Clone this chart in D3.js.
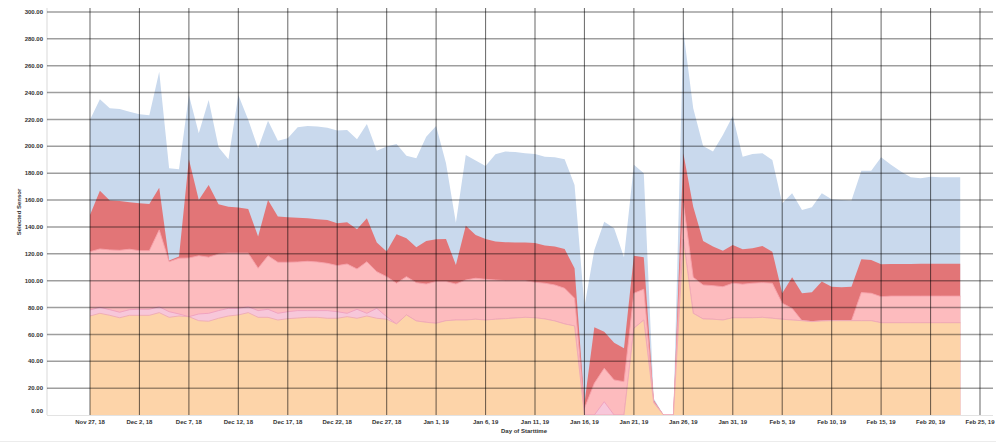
<!DOCTYPE html>
<html>
<head>
<meta charset="utf-8">
<script src="https://cdn.jsdelivr.net/npm/d3@7"></script>
<style>
body{margin:0;background:#fff;}
svg{display:block;font-family:"Liberation Sans",Arial,sans-serif;}
</style>
</head>
<body>
<svg id="chart" width="996" height="443"></svg>
<script>
// one point per day, Nov 27 2018 .. Feb 23 2019
let days = d3.timeDay.range(new Date(2018,10,27), new Date(2019,1,24));
let tickDates = d3.timeDay.range(new Date(2018,10,27), new Date(2019,1,26), 5);
let yTicks = [0,20,40,60,80,100,120,140,160,180,200,220,240,260,280,300];

let blueVals = [219.7,235.1,228.4,227.7,225.8,223.9,223.2,255.6,183.7,183,
  238.3,209.8,234.5,199.3,190.4,238.3,219.7,198.6,219.1,204.2,
  206,214.2,215.2,214.7,213.9,211.7,212.2,205.3,216.7,196.8,
  199.9,201.8,192.9,191.1,207.2,215.2,187.4,143.2,193.6,189.4,
  185.4,194.1,196.1,195.8,194.9,194.3,192.3,191.9,190.4,171.3,
  80.6,122.9,143.9,139,117.4,186.2,180,12.4,0,0,
  286,228.4,200.3,196.1,208.5,222.6,192.3,194.3,194.9,189.9,
  157.6,165.1,152.6,154.7,165.1,160.6,160.1,159.6,181.9,181.9,
  191.9,186.2,181.2,177,176.2,177.4,177,177,177];
let redVals = [148.9,167,159.6,159.3,158.4,157.6,157.1,169.2,115,117.9,
  190.4,160.1,171.3,156.9,155.1,154.4,153.4,132.8,160.1,147.7,
  147.2,146.9,146.5,145.8,145.2,142.8,143.5,138.3,146.5,128.4,
  121.7,134.6,131.6,124.9,129.6,130.9,131.1,111.7,140.9,134,
  131.1,129.1,128.6,128.4,128.4,128,126.2,125.5,123.5,109.2,
  8.7,65.3,62,53.8,49.7,118.5,117.5,11.2,0,0,
  194.9,155.1,129.6,125.5,122.3,126.6,123.4,124.1,125.8,121.6,
  90.6,102.5,90.6,91.4,99.3,95.5,95.1,95.5,115.9,115.4,
  112.2,112.4,112.4,112.4,112.6,112.6,112.6,112.6,112.6];
let pinkVals = [121.6,123.6,122.9,122.6,123.4,122.3,122.3,137.8,114.1,116.7,
  116.9,118.5,117.5,119.8,120.5,120.5,120.5,109.3,118.5,113.7,
  113.7,113.9,114.4,113.9,112.9,111.2,112.4,108.7,114.1,106.7,
  103,98.1,103,98.5,97.5,99.3,99.3,97.5,100.5,101.8,
  101,100.5,100,100,100,98.8,98.1,96.8,94.3,86.9,
  5,23.6,34.8,26.1,24.8,90.6,93.6,9.9,0,0,
  158,102.5,96.8,96.3,95.5,98.1,97.4,98.1,98.5,98.1,
  83.2,79.4,70.2,69.5,70,70.2,70.2,70.2,91.1,90.6,
  88.1,88.5,88.5,88.5,88.5,88.5,88.5,88.5,88.5];
let lightPinkVals = [78.2,80.2,78.4,76.5,78.4,78.7,78.7,80.6,76.9,75.2,
  73.2,75.2,75.7,77.7,79.4,79.4,80.6,77.7,78.7,75.7,
  76.9,77.7,77.7,77.7,77.7,76.9,75.7,78.7,75.7,79.4,
  73.2,67.8,74.5,70,69,68.3,70.2,70.7,70.7,71.3,
  70.7,71.3,71.7,72.2,72.7,72.4,71.5,70,67.8,66.3,
  0,0,9.9,0,0,64.6,70.7,9.2,0,0,
  131,75.7,71.5,71.3,70.7,72.4,72.4,72.4,72.7,72,
  71.3,70.7,70.2,69.5,70,70.2,70.2,70.2,70.2,70.2,
  68.7,68.7,68.7,68.7,68.7,68.7,68.7,68.7,68.7];
let orangeVals = [73.7,75.7,74.2,72.4,74.2,74.2,74.2,76.2,72.7,73.7,
  73.2,70.2,69.8,72,73.7,74.5,76.2,72.7,72.7,70.7,
  71.7,72.2,72.7,72.7,72,72,73.2,72,73.7,72,
  71.3,67.8,74.5,70,69,68.3,70.2,70.7,70.7,71.3,
  70.7,71.3,71.7,72.2,72.7,72.4,71.5,70,67.8,66.3,
  0,0,0,0,0,64.6,70.7,9.2,0,0,
  131,75.7,71.5,71.3,70.7,72.4,72.4,72.4,72.7,72,
  71.3,70.7,70.2,69.5,70,70.2,70.2,70.2,70.2,70.2,
  68.7,68.7,68.7,68.7,68.7,68.7,68.7,68.7,68.7];

// drawn back to front
let layers = [
  {vals: blueVals, fill: '#c9d9ed', edge: null},
  {vals: redVals, fill: '#e27577', edge: null},
  {vals: pinkVals, fill: '#fdbbbe', edge: '#f6a3ab'},
  {vals: lightPinkVals, fill: '#f7c7da', edge: '#ef9fbd'},
  {vals: orangeVals, fill: '#fdd4a9', edge: '#eeaab4'}
];

let chart = d3.select('#chart');
let plotLeft = 47, plotRight = 993, plotTop = 8;

let x = d3.scaleTime()
  .domain([new Date(2018,10,27), new Date(2019,1,25)])
  .range([90, 980]);
let y = d3.scaleLinear().domain([0, 300]).range([415, 12]);

// areas
layers.forEach((layer) => {
  let area = d3.area()
    .x((d, i) => x(days[i]))
    .y0(y(0))
    .y1((d) => y(d));
  chart.append('path')
    .datum(layer.vals)
    .attr('d', area)
    .attr('fill', layer.fill);
  if (layer.edge) {
    let line = d3.line().x((d, i) => x(days[i])).y((d) => y(d));
    chart.append('path')
      .datum(layer.vals)
      .attr('d', line)
      .attr('fill', 'none')
      .attr('stroke', layer.edge)
      .attr('stroke-width', 0.9);
  }
});

// left axis line + baseline
chart.append('line')
  .attr('x1', plotLeft).attr('x2', plotLeft).attr('y1', plotTop).attr('y2', y(0))
  .attr('stroke', '#d9d9d9');
chart.append('line')
  .attr('x1', plotLeft).attr('x2', plotRight).attr('y1', y(0) + 0.5).attr('y2', y(0) + 0.5)
  .attr('stroke', '#e3e3e3');

// grid on top of areas
chart.append('g')
  .selectAll('line')
  .data(yTicks.filter((t) => t > 0))
  .enter()
  .append('line')
  .attr('x1', plotLeft).attr('x2', plotRight)
  .attr('y1', (t) => y(t)).attr('y2', (t) => y(t))
  .attr('stroke', 'rgba(0,0,0,0.38)')
  .attr('stroke-width', 1.5);

chart.append('g')
  .selectAll('line')
  .data(tickDates)
  .enter()
  .append('line')
  .attr('x1', (d) => x(d)).attr('x2', (d) => x(d))
  .attr('y1', plotTop).attr('y2', y(0))
  .attr('stroke', 'rgba(0,0,0,0.55)')
  .attr('stroke-width', 1.1);

// tick labels
let fmtY = d3.format('.2f');
let fmtX = d3.timeFormat('%b %-d, %y');

chart.append('g')
  .selectAll('text')
  .data(yTicks)
  .enter()
  .append('text')
  .attr('x', 43)
  .attr('y', (t) => t === 0 ? y(t) - 4 : y(t))
  .attr('dy', '0.35em')
  .attr('text-anchor', 'end')
  .attr('font-size', 6)
  .attr('font-weight', 'bold')
  .attr('fill', '#333')
  .text((t) => fmtY(t));

chart.append('g')
  .selectAll('text')
  .data(tickDates)
  .enter()
  .append('text')
  .attr('x', (d) => x(d))
  .attr('y', 423.5)
  .attr('text-anchor', 'middle')
  .attr('font-size', 6)
  .attr('font-weight', 'bold')
  .attr('fill', '#333')
  .text((d) => fmtX(d));

// axis titles
chart.append('text')
  .attr('x', 524).attr('y', 433)
  .attr('text-anchor', 'middle')
  .attr('font-size', 6)
  .attr('font-weight', 'bold')
  .attr('fill', '#333')
  .text('Day of Starttime');

chart.append('text')
  .attr('transform', 'translate(21,212) rotate(-90)')
  .attr('text-anchor', 'middle')
  .attr('font-size', 6)
  .attr('font-weight', 'bold')
  .attr('fill', '#333')
  .text('Selected Sensor');

chart.append('line')
  .attr('x1', 0).attr('x2', 996).attr('y1', 441.5).attr('y2', 441.5)
  .attr('stroke', '#ececec');
</script>
</body>
</html>
